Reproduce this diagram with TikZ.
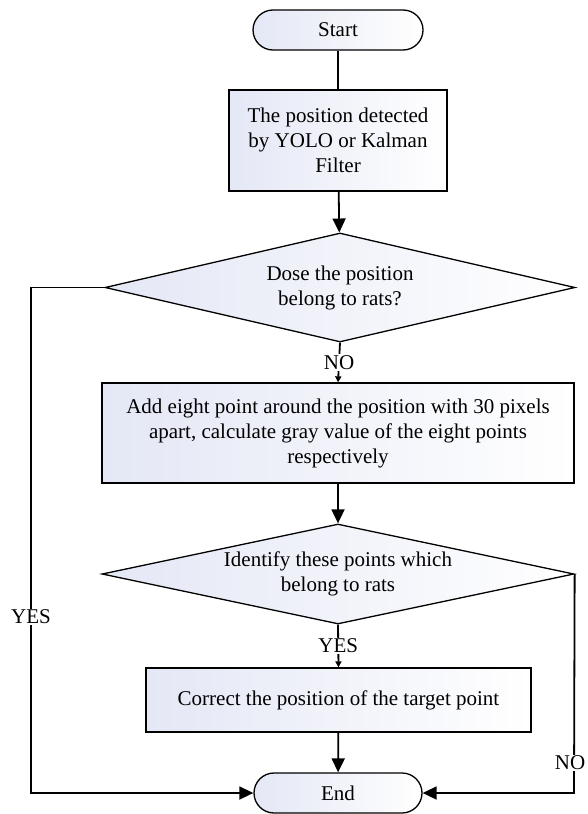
\documentclass[tikz,border=0pt]{standalone}
\usepackage{fontspec}
\setmainfont{Liberation Serif}
\usetikzlibrary{shapes.geometric,arrows.meta}
\definecolor{shadeL}{RGB}{228,231,245}
\tikzset{
  base/.style={draw=black, line width=1.3pt, left color=shadeL, right color=white,
    align=center, inner sep=2pt, font=\fontsize{21}{25}\selectfont},
  terminal/.style={base, rectangle, rounded corners=20pt},
  procbox/.style={base, rectangle},
  decision/.style={base, diamond, inner sep=0pt},
  conn/.style={draw=black, line width=1.8pt},
  bigarrow/.style={conn, -{Triangle[length=14pt,width=13pt]}},
  smallarrow/.style={conn, -{Triangle[length=6pt,width=6pt]}},
  lbl/.style={fill=white, inner sep=1pt, font=\fontsize{21}{25}\selectfont}
}
\begin{document}
\begin{tikzpicture}[x=1pt,y=-1pt]
\useasboundingbox (0,0) rectangle (587,814);
\node[terminal, minimum width=170pt, minimum height=40pt] (start) at (338,30) {Start};
\node[procbox, minimum width=218pt, minimum height=101pt] (b1) at (338,140.5) {The position detected\\by YOLO or Kalman\\Filter};
\node[decision, aspect=4.31, minimum width=470pt, minimum height=109pt] (d1) at (340,287.5) {Dose the position\\belong to rats?};
\node[procbox, minimum width=472pt, minimum height=100pt] (b2) at (338,433) {Add eight point around the position with 30 pixels\\apart, calculate gray value of the eight points\\respectively};
\node[decision, aspect=4.72, minimum width=472pt, minimum height=100pt] (d2) at (338,574) {Identify these points which\\belong to rats};
\node[procbox, minimum width=385pt, minimum height=64pt] (b3) at (338.5,700) {Correct the position of the target point};
\node[terminal, minimum width=168pt, minimum height=40pt] (end) at (338,793) {End};
\coordinate (lt) at (31,287.5);
\coordinate (lb) at (31,793);
\coordinate (rb) at (574,793);
\draw[conn] (start) -- (b1);
\draw[bigarrow] (b1) -- (d1);
\draw[smallarrow] (d1.south) -- node[lbl]{NO} (b2.north);
\draw[bigarrow] (b2) -- (d2);
\draw[smallarrow] (d2.south) -- node[lbl]{YES} (b3.north);
\draw[bigarrow] (b3) -- (end);
\draw[bigarrow] (d1.west) -- (lt) -- node[lbl, pos=0.652]{YES} (lb) -- (end.west);
\draw[bigarrow] (d2.east) -- node[lbl, pos=0.863, xshift=-4pt, inner xsep=0pt]{NO} (rb) -- (end.east);
\end{tikzpicture}
\end{document}
